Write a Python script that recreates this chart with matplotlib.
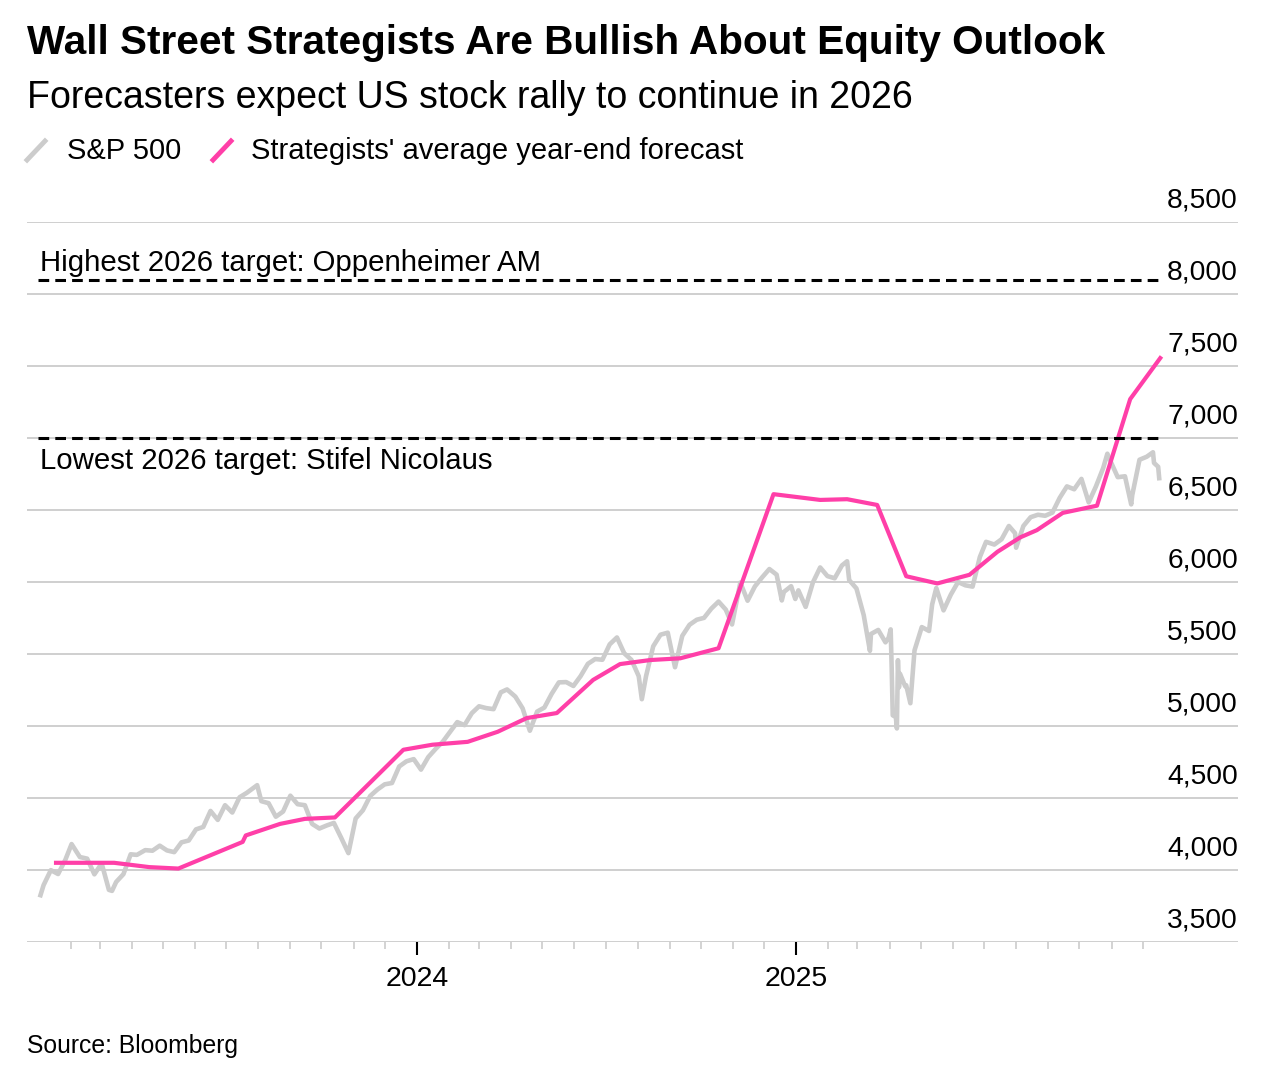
import matplotlib.pyplot as plt
import matplotlib.dates as mdates
import matplotlib.transforms as mtransforms
import numpy as np
import pandas as pd

plt.rcParams['font.family'] = ['Liberation Sans', 'DejaVu Sans']

# S&P 500 (roughly weekly)
sp_dates = [
    '2023-01-03', '2023-01-06', '2023-01-13', '2023-01-20', '2023-01-27', '2023-02-02',
    '2023-02-10', '2023-02-17', '2023-02-24', '2023-03-03', '2023-03-10', '2023-03-13',
    '2023-03-17', '2023-03-24', '2023-03-31', '2023-04-06', '2023-04-14', '2023-04-21',
    '2023-04-28', '2023-05-05', '2023-05-12', '2023-05-19', '2023-05-26', '2023-06-02',
    '2023-06-09', '2023-06-16', '2023-06-23', '2023-06-30', '2023-07-07', '2023-07-14',
    '2023-07-21', '2023-07-31', '2023-08-04', '2023-08-11', '2023-08-18', '2023-08-25',
    '2023-09-01', '2023-09-08', '2023-09-15', '2023-09-22', '2023-09-29', '2023-10-06',
    '2023-10-13', '2023-10-20', '2023-10-27', '2023-11-03', '2023-11-10', '2023-11-17',
    '2023-11-24', '2023-12-01', '2023-12-08', '2023-12-15', '2023-12-22', '2023-12-29',
    '2024-01-05', '2024-01-12', '2024-01-19', '2024-01-26', '2024-02-02', '2024-02-09',
    '2024-02-16', '2024-02-23', '2024-03-01', '2024-03-08', '2024-03-15', '2024-03-22',
    '2024-03-28', '2024-04-05', '2024-04-12', '2024-04-19', '2024-04-26', '2024-05-03',
    '2024-05-10', '2024-05-17', '2024-05-24', '2024-05-31', '2024-06-07', '2024-06-14',
    '2024-06-21', '2024-06-28', '2024-07-05', '2024-07-12', '2024-07-19', '2024-07-26',
    '2024-08-02', '2024-08-05', '2024-08-09', '2024-08-16', '2024-08-23', '2024-08-30',
    '2024-09-06', '2024-09-13', '2024-09-20', '2024-09-27', '2024-10-04', '2024-10-11',
    '2024-10-18', '2024-10-25', '2024-10-31', '2024-11-08', '2024-11-15', '2024-11-22',
    '2024-11-29', '2024-12-06', '2024-12-13', '2024-12-18', '2024-12-20', '2024-12-27',
    '2024-12-31', '2025-01-03', '2025-01-10', '2025-01-17', '2025-01-24', '2025-01-31',
    '2025-02-07', '2025-02-14', '2025-02-19', '2025-02-21', '2025-02-28', '2025-03-07',
    '2025-03-13', '2025-03-14', '2025-03-21', '2025-03-28', '2025-03-31', '2025-04-02',
    '2025-04-03', '2025-04-04', '2025-04-07', '2025-04-08', '2025-04-09', '2025-04-10',
    '2025-04-11', '2025-04-16', '2025-04-17', '2025-04-21', '2025-04-25', '2025-05-02',
    '2025-05-09', '2025-05-12', '2025-05-16', '2025-05-23', '2025-05-30', '2025-06-06',
    '2025-06-13', '2025-06-20', '2025-06-27', '2025-07-03', '2025-07-11', '2025-07-18',
    '2025-07-25', '2025-07-31', '2025-08-01', '2025-08-08', '2025-08-15', '2025-08-22',
    '2025-08-29', '2025-09-05', '2025-09-12', '2025-09-19', '2025-09-26', '2025-10-03',
    '2025-10-10', '2025-10-17', '2025-10-24', '2025-10-28', '2025-10-31', '2025-11-07',
    '2025-11-14', '2025-11-20', '2025-11-21', '2025-11-28', '2025-12-05', '2025-12-11',
    '2025-12-12', '2025-12-16', '2025-12-17',
]
sp_values = [
    3825, 3895, 3999, 3972, 4071, 4180,
    4090, 4079, 3970, 4046, 3862, 3855,
    3917, 3971, 4109, 4105, 4138, 4134,
    4169, 4136, 4124, 4192, 4205, 4282,
    4299, 4410, 4348, 4450, 4399, 4505,
    4536, 4589, 4478, 4464, 4370, 4406,
    4516, 4457, 4450, 4320, 4288, 4309,
    4327, 4224, 4117, 4358, 4415, 4514,
    4559, 4595, 4604, 4719, 4755, 4770,
    4697, 4784, 4840, 4891, 4959, 5027,
    5006, 5089, 5137, 5124, 5117, 5234,
    5254, 5204, 5123, 4967, 5100, 5128,
    5223, 5303, 5305, 5278, 5347, 5432,
    5465, 5460, 5567, 5615, 5505, 5459,
    5346, 5186, 5344, 5554, 5634, 5648,
    5408, 5626, 5703, 5738, 5751, 5815,
    5864, 5808, 5705, 5996, 5870, 5969,
    6032, 6090, 6051, 5872, 5931, 5971,
    5882, 5942, 5827, 5997, 6101, 6041,
    6026, 6115, 6144, 6013, 5955, 5770,
    5522, 5639, 5667, 5581, 5612, 5671,
    5397, 5074, 5062, 4983, 5457, 5268,
    5363, 5276, 5283, 5158, 5525, 5687,
    5660, 5844, 5958, 5803, 5912, 6000,
    5977, 5968, 6173, 6279, 6260, 6297,
    6389, 6339, 6238, 6389, 6450, 6467,
    6460, 6482, 6584, 6664, 6644, 6716,
    6553, 6664, 6792, 6891, 6840, 6728,
    6734, 6539, 6603, 6849, 6870, 6901,
    6827, 6800, 6721,
]

# strategists' average year-end forecast
fc_dates = [
    '2023-01-18', '2023-03-15', '2023-04-18', '2023-05-16', '2023-07-17', '2023-07-20',
    '2023-08-22', '2023-09-15', '2023-10-14', '2023-12-19', '2024-01-16', '2024-02-19',
    '2024-03-19', '2024-04-16', '2024-05-15', '2024-06-19', '2024-07-15', '2024-08-13',
    '2024-09-11', '2024-10-18', '2024-12-10', '2025-01-24', '2025-02-19', '2025-03-20',
    '2025-04-17', '2025-05-17', '2025-06-17', '2025-07-14', '2025-08-05', '2025-08-21',
    '2025-09-15', '2025-10-18', '2025-11-19', '2025-12-18',
]
fc_values = [
    4050, 4050, 4020, 4010, 4195, 4240,
    4320, 4355, 4365, 4835, 4870, 4890,
    4960, 5055, 5090, 5320, 5430, 5458,
    5470, 5540, 6610, 6570, 6575, 6535,
    6040, 5990, 6050, 6210, 6310, 6360,
    6480, 6530, 7270, 7555,
]

high_target = 8100
low_target = 7000
y_ticks = [3500, 4000, 4500, 5000, 5500, 6000, 6500, 7000, 7500, 8000, 8500]

sp_d = pd.to_datetime(sp_dates)
fc_d = pd.to_datetime(fc_dates)

GRAY = '#cccccc'
PINK = '#ff3fa8'

fig = plt.figure(figsize=(12.74, 10.74), dpi=100)
ax = fig.add_axes([27 / 1274, 1 - 942 / 1074, (1238 - 27) / 1274, (942 - 222) / 1074])

for y in y_ticks:
    ax.axhline(y, color=GRAY, lw=1.3, zorder=0)

ax.plot(sp_d, sp_values, color=GRAY, lw=3.3, solid_joinstyle='round', zorder=2)
ax.plot(fc_d, fc_values, color=PINK, lw=3, solid_joinstyle='round', zorder=3)

x0, x1 = pd.Timestamp('2023-01-01'), pd.Timestamp('2025-12-18')
ax.plot([x0, x1], [high_target, high_target], color='black', lw=2.2, ls=(0, (3.5, 2)), zorder=4)
ax.plot([x0, x1], [low_target, low_target], color='black', lw=2.2, ls=(0, (3.5, 2)), zorder=4)
ax.text(pd.Timestamp('2023-01-03'), high_target + 15, 'Highest 2026 target: Oppenheimer AM',
        fontsize=21.2, va='bottom', ha='left')
ax.text(pd.Timestamp('2023-01-03'), low_target - 65, 'Lowest 2026 target: Stifel Nicolaus',
        fontsize=21.2, va='top', ha='left')

ax.set_xlim(pd.Timestamp('2022-12-21'), pd.Timestamp('2026-03-03'))
ax.set_ylim(3500, 8500)

# y labels sit above the gridlines, right aligned
trans = mtransforms.blended_transform_factory(ax.transAxes, ax.transData)
for y in y_ticks:
    ax.annotate(f'{y:,}', xy=(1, y), xycoords=trans, xytext=(0, 6), textcoords='offset points',
                ha='right', va='bottom', fontsize=20.3)
ax.set_yticks([])

majors = pd.to_datetime(['2024-01-01', '2025-01-01'])
minors = [d for d in pd.date_range('2023-02-01', '2025-12-01', freq='MS') if d.month != 1]
ax.set_xticks(majors)
ax.set_xticklabels(['2024', '2025'], fontsize=20.5)
ax.set_xticks(minors, minor=True)
ax.tick_params(axis='x', which='major', length=9, width=1.5, color='black', pad=8)
ax.tick_params(axis='x', which='minor', length=5, width=1.2, color=GRAY)

for s in ax.spines.values():
    s.set_visible(False)

fig.text(27 / 1274, 1 - 43 / 1074, 'Wall Street Strategists Are Bullish About Equity Outlook',
         fontsize=29.2, fontweight='bold', va='center', ha='left')
fig.text(27 / 1274, 1 - 98 / 1074, 'Forecasters expect US stock rally to continue in 2026',
         fontsize=27, va='center', ha='left')

# legend
fig.add_artist(plt.Line2D([27 / 1274, 45 / 1274], [1 - 160 / 1074, 1 - 141 / 1074],
                          color=GRAY, lw=3.5, transform=fig.transFigure))
fig.text(67 / 1274, 1 - 151 / 1074, 'S&P 500', fontsize=21, va='center', ha='left')
fig.add_artist(plt.Line2D([213 / 1274, 231 / 1274], [1 - 160 / 1074, 1 - 141 / 1074],
                          color=PINK, lw=3.5, transform=fig.transFigure))
fig.text(251 / 1274, 1 - 151 / 1074, "Strategists' average year-end forecast",
         fontsize=21, va='center', ha='left')

fig.text(27 / 1274, 1 - 1046 / 1074, 'Source: Bloomberg', fontsize=17.8, va='center', ha='left')

fig.savefig('out.png', dpi=100, facecolor='white')
